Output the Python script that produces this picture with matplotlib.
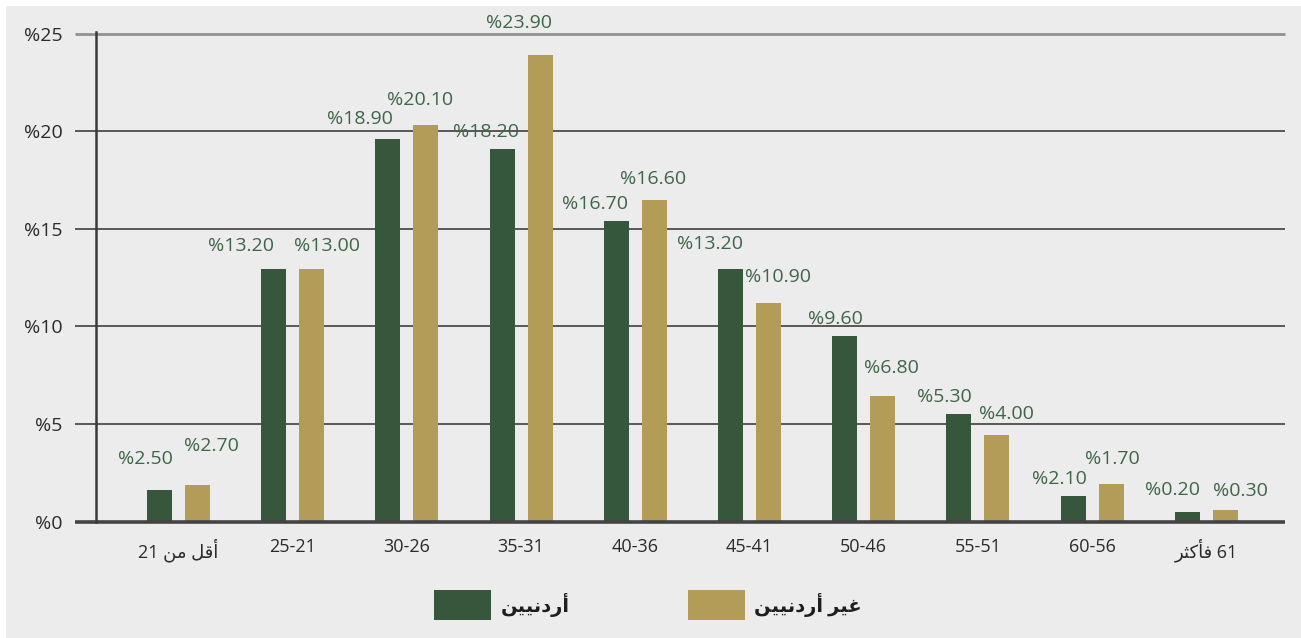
import matplotlib
matplotlib.use("Agg")
import matplotlib.pyplot as plt
from matplotlib.patches import Rectangle
import matplotlib.transforms as mtransforms

plt.rcParams['font.family'] = ['Open Sans', 'DejaVu Sans']

# ---------------- data ----------------
categories = ["أقل من 21", "25-21", "30-26", "35-31", "40-36",
              "45-41", "50-46", "55-51", "60-56", "61 فأكثر"]
jordanian = [1.6, 12.95, 19.6, 19.1, 15.4, 12.95, 9.5, 5.5, 1.3, 0.5]
non_jordanian = [1.9, 12.95, 20.3, 23.9, 16.5, 11.2, 6.45, 4.45, 1.95, 0.6]
jordanian_labels = ["%2.50", "%13.20", "%18.90", "%18.20", "%16.70",
                    "%13.20", "%9.60", "%5.30", "%2.10", "%0.20"]
non_jordanian_labels = ["%2.70", "%13.00", "%20.10", "%23.90", "%16.60",
                        "%10.90", "%6.80", "%4.00", "%1.70", "%0.30"]
series_names = ["أردنيين", "غير أردنيين"]
y_ticks = [0, 5, 10, 15, 20, 25]

# label placement (layout, as in the original chart)
jl_dx = [-0.293, -0.455, -0.411, -0.307, -0.349, -0.346, -0.247, -0.292, -0.290, -0.296]
jl_y = [3.21, 14.12, 20.63, 19.94, 16.25, 14.20, 10.38, 6.39, 2.21, 1.60]
nl_dx = [0.289, 0.300, 0.119, -0.014, 0.155, 0.254, 0.239, 0.246, 0.179, 0.299]
nl_y = [3.88, 14.12, 21.58, 25.55, 17.53, 12.56, 7.85, 5.52, 3.19, 1.57]

# ---------------- simple Arabic shaping ----------------
FORMS = {
    '\u0623': ('\uFE83', '\uFE84', None, None),
    '\u062F': ('\uFEA9', '\uFEAA', None, None),
    '\u0631': ('\uFEAD', '\uFEAE', None, None),
    '\u062B': ('\uFE99', '\uFE9A', '\uFE9B', '\uFE9C'),
    '\u063A': ('\uFECD', '\uFECE', '\uFECF', '\uFED0'),
    '\u0641': ('\uFED1', '\uFED2', '\uFED3', '\uFED4'),
    '\u0642': ('\uFED5', '\uFED6', '\uFED7', '\uFED8'),
    '\u0643': ('\uFED9', '\uFEDA', '\uFEDB', '\uFEDC'),
    '\u0644': ('\uFEDD', '\uFEDE', '\uFEDF', '\uFEE0'),
    '\u0645': ('\uFEE1', '\uFEE2', '\uFEE3', '\uFEE4'),
    '\u0646': ('\uFEE5', '\uFEE6', '\uFEE7', '\uFEE8'),
    '\u064A': ('\uFEF1', '\uFEF2', '\uFEF3', '\uFEF4'),
}


def shape_word(w):
    out = []
    for i, ch in enumerate(w):
        if ch not in FORMS:
            out.append(ch)
            continue
        iso, fin, ini, med = FORMS[ch]
        prev = w[i - 1] if i > 0 else None
        nxt = w[i + 1] if i + 1 < len(w) else None
        jp = prev in FORMS and FORMS[prev][2] is not None
        jn = nxt in FORMS and ini is not None
        if jp and jn:
            out.append(med)
        elif jp:
            out.append(fin)
        elif jn:
            out.append(ini)
        else:
            out.append(iso)
    return ''.join(out)


def visual(s):
    if not any(c in FORMS for c in s):
        return s
    res = []
    for w in reversed(s.split(' ')):
        if any(c in FORMS for c in w):
            res.append(shape_word(w)[::-1])
        else:
            res.append(w)
    return ' '.join(res)


# ---------------- figure ----------------
W, H = 1301, 638
fig = plt.figure(figsize=(W / 100, H / 100), dpi=100)
fig.patch.set_facecolor('white')
fig.patches.append(Rectangle((6 / W, 0), 1 - 6 / W, 1 - 6 / H, transform=fig.transFigure,
                             facecolor='#ececec', edgecolor='none', zorder=-10))

green = '#36573b'
gold = '#b39b58'
label_color = '#3f6549'
text_color = '#2b2b2b'

ax_left, ax_right = 96, 1285
ax_bottom, ax_top = 521.7, 31.7
ax = fig.add_axes([ax_left / W, 1 - ax_bottom / H, (ax_right - ax_left) / W, (ax_bottom - ax_top) / H])
ax.set_facecolor('none')

n = len(categories)
x = list(range(n))
bw = 0.219
off = 0.166
ax.bar([i - off for i in x], jordanian, width=bw, color=green, zorder=3)
ax.bar([i + off for i in x], non_jordanian, width=bw, color=gold, zorder=3)

ax.set_xlim(-0.722, 9.689)
ax.set_ylim(0, 25.1)

# gridlines (extend left past spine)
trans = mtransforms.blended_transform_factory(ax.transAxes, ax.transData)
ext = -21 / (ax_right - ax_left)
grid_style = {0: ('#444444', 2.6), 25: ('#929292', 2.0)}
for v in y_ticks:
    c, lw = grid_style.get(v, ('#575757', 1.4))
    ax.plot([ext, 1], [v, v], transform=trans, color=c, lw=lw, clip_on=False,
            zorder=4 if v == 0 else 1, solid_capstyle='butt')

for s in ['top', 'right', 'bottom']:
    ax.spines[s].set_visible(False)
ax.spines['left'].set_color('#3a3a3a')
ax.spines['left'].set_linewidth(1.8)
ax.spines['left'].set_zorder(5)

ax.set_yticks(y_ticks)
ax.set_yticklabels([f"%{v}" for v in y_ticks])
ax.tick_params(axis='y', length=0, pad=24, labelsize=14, labelcolor=text_color)

ax.set_xticks(x)
ax.set_xticklabels([visual(c) for c in categories])
ax.tick_params(axis='x', length=0, pad=12, labelsize=13, labelcolor=text_color)

# value labels
for i in x:
    ax.text(i + jl_dx[i], jl_y[i], jordanian_labels[i], ha='center', va='center',
            fontsize=14, color=label_color, zorder=6)
    ax.text(i + nl_dx[i], nl_y[i], non_jordanian_labels[i], ha='center', va='center',
            fontsize=14, color=label_color, zorder=6)

# legend (RTL style: text to the right of swatch)
ly = 605
for (px0, px1, tx, col, name) in [(434, 491, 570, green, series_names[0]),
                                   (688, 745, 862, gold, series_names[1])]:
    fig.patches.append(Rectangle((px0 / W, 1 - 620 / H), (px1 - px0) / W, 30 / H,
                                 transform=fig.transFigure, facecolor=col, edgecolor='none'))
    fig.text(tx / W, 1 - ly / H, visual(name), ha='right', va='center', fontsize=14,
             fontweight='bold', color='#1e1e1e')

fig.savefig('out.png', dpi=100)
